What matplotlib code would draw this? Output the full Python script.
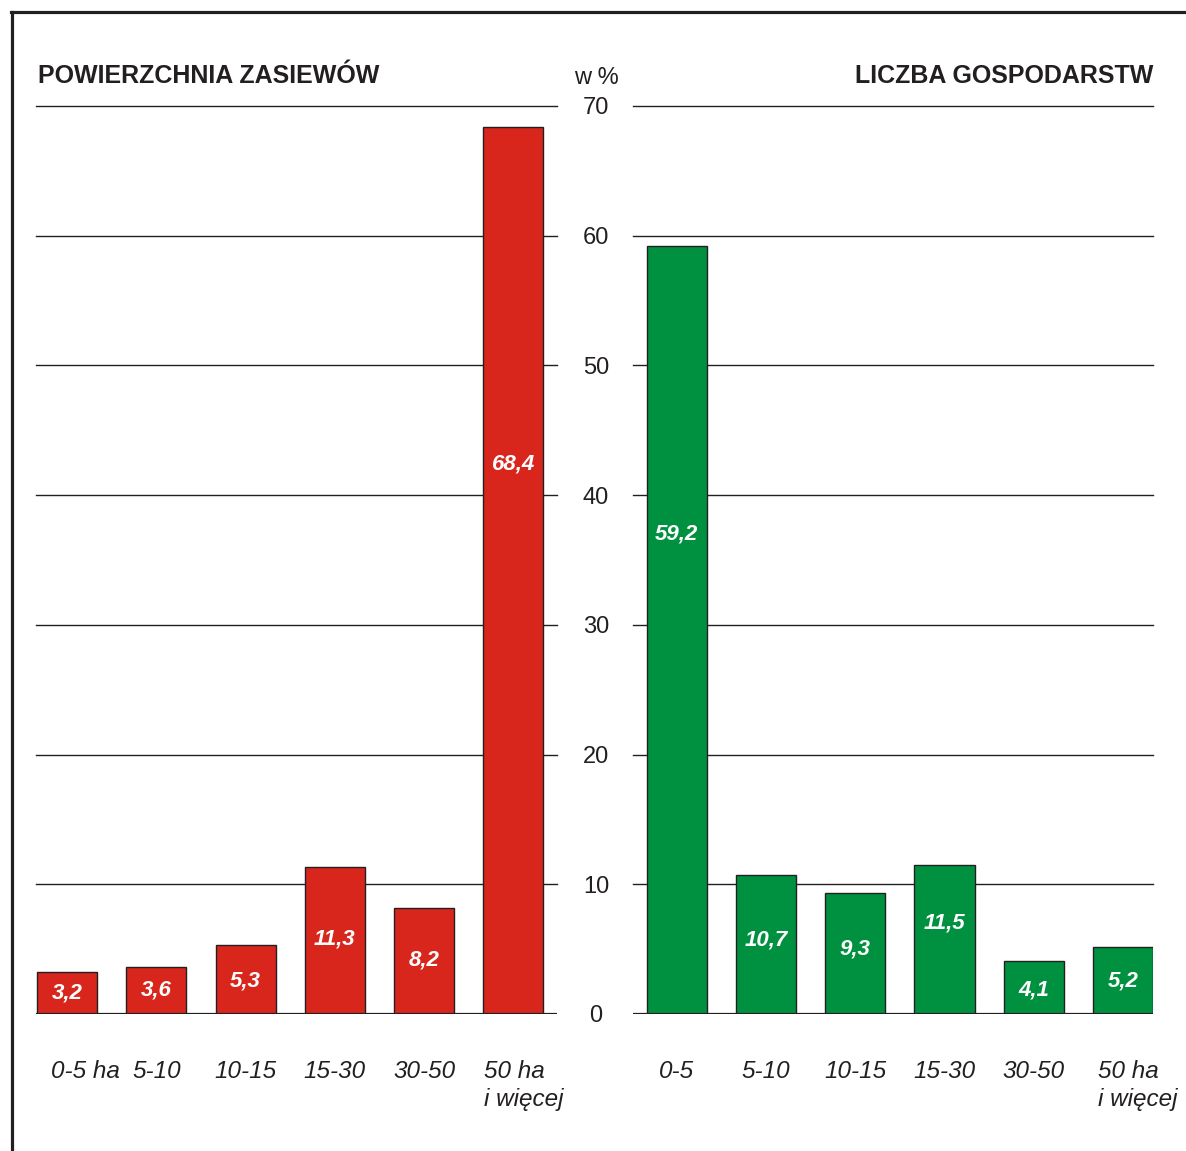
import matplotlib
matplotlib.use("Agg")
import matplotlib.pyplot as plt
from matplotlib.lines import Line2D
from matplotlib.transforms import blended_transform_factory

plt.rcParams['font.family'] = ['Liberation Sans', 'DejaVu Sans']

# ---- data ----
left_title = "POWIERZCHNIA ZASIEWÓW"
right_title = "LICZBA GOSPODARSTW"
left_categories = ["0-5 ha", "5-10", "10-15", "15-30", "30-50", "50 ha\ni więcej"]
right_categories = ["0-5", "5-10", "10-15", "15-30", "30-50", "50 ha\ni więcej"]
left_values = [3.2, 3.6, 5.3, 11.3, 8.2, 68.4]
right_values = [59.2, 10.7, 9.3, 11.5, 4.1, 5.2]
y_ticks = [0, 10, 20, 30, 40, 50, 60, 70]
y_unit = "w %"

# ---- styling / layout ----
RED = "#d9261c"
GREEN = "#009140"
DARK = "#231f20"
W, H = 1186, 1151
fig = plt.figure(figsize=(W / 100, H / 100), dpi=100)

bottom = 1 - 1014 / H
top = 1 - 106 / H
axL = fig.add_axes([36 / W, bottom, (557 - 36) / W, top - bottom])
axR = fig.add_axes([633 / W, bottom, (1153 - 633) / W, top - bottom])

label_frac_left = [0.5, 0.51, 0.48, 0.51, 0.51, 0.62]
label_frac_right = [0.625, 0.53, 0.54, 0.61, 0.45, 0.49]
tick_shift_left = [0.2, 0, 0, 0, 0, 0.12]
tick_shift_right = [0, 0, 0, 0, 0, 0.17]


def draw(ax, cats, vals, color, xlim, fracs, shifts):
    x = list(range(len(vals)))
    ax.set_xlim(*xlim)
    ax.set_ylim(0, 70)
    for t in y_ticks[1:]:
        ax.axhline(t, color=DARK, lw=1.0, zorder=1, clip_on=False)
    ax.bar(x, vals, width=0.673, color=color, edgecolor=DARK, linewidth=1.0, zorder=2)
    ax.axhline(0, color=DARK, lw=1.6, zorder=3)
    for xi, v, f in zip(x, vals, fracs):
        ax.text(xi, v * f, f"{v:.1f}".replace(".", ","), color="white",
                fontsize=16, fontweight="bold", fontstyle="italic",
                ha="center", va="center", zorder=4)
    for xi, c, s in zip(x, cats, shifts):
        ax.text(xi + s, -3.55, c, fontsize=17.5, fontstyle="italic", color=DARK,
                ha="center", va="top", multialignment="left", linespacing=1.25)
    ax.axis("off")


draw(axL, left_categories, left_values, RED, (-0.35, 5.49), label_frac_left, tick_shift_left)
draw(axR, right_categories, right_values, GREEN, (-0.49, 5.336), label_frac_right, tick_shift_right)

# shared y tick labels in the middle
tr = blended_transform_factory(fig.transFigure, axL.transData)
for t in y_ticks:
    axL.text(596 / W, t, str(t), transform=tr, fontsize=17, color=DARK,
             ha="center", va="center_baseline", clip_on=False)
fig.text(596 / W, 1 - 76 / H, y_unit, fontsize=17, color=DARK, ha="center",
         va="center_baseline")

# titles
fig.text(38 / W, 1 - 83 / H, left_title, fontsize=18, fontweight="bold", color=DARK,
         ha="left", va="baseline")
fig.text(1153 / W, 1 - 83 / H, right_title, fontsize=18, fontweight="bold", color=DARK,
         ha="right", va="baseline")

# frame lines
fig.add_artist(Line2D([12 / W, 12 / W], [0, 1 - 12 / H], color=DARK, lw=2.3,
                      transform=fig.transFigure))
fig.add_artist(Line2D([11 / W, 1], [1 - 12 / H, 1 - 12 / H], color=DARK, lw=2.3,
                      transform=fig.transFigure))

fig.savefig("out.png", dpi=100, facecolor="white")
